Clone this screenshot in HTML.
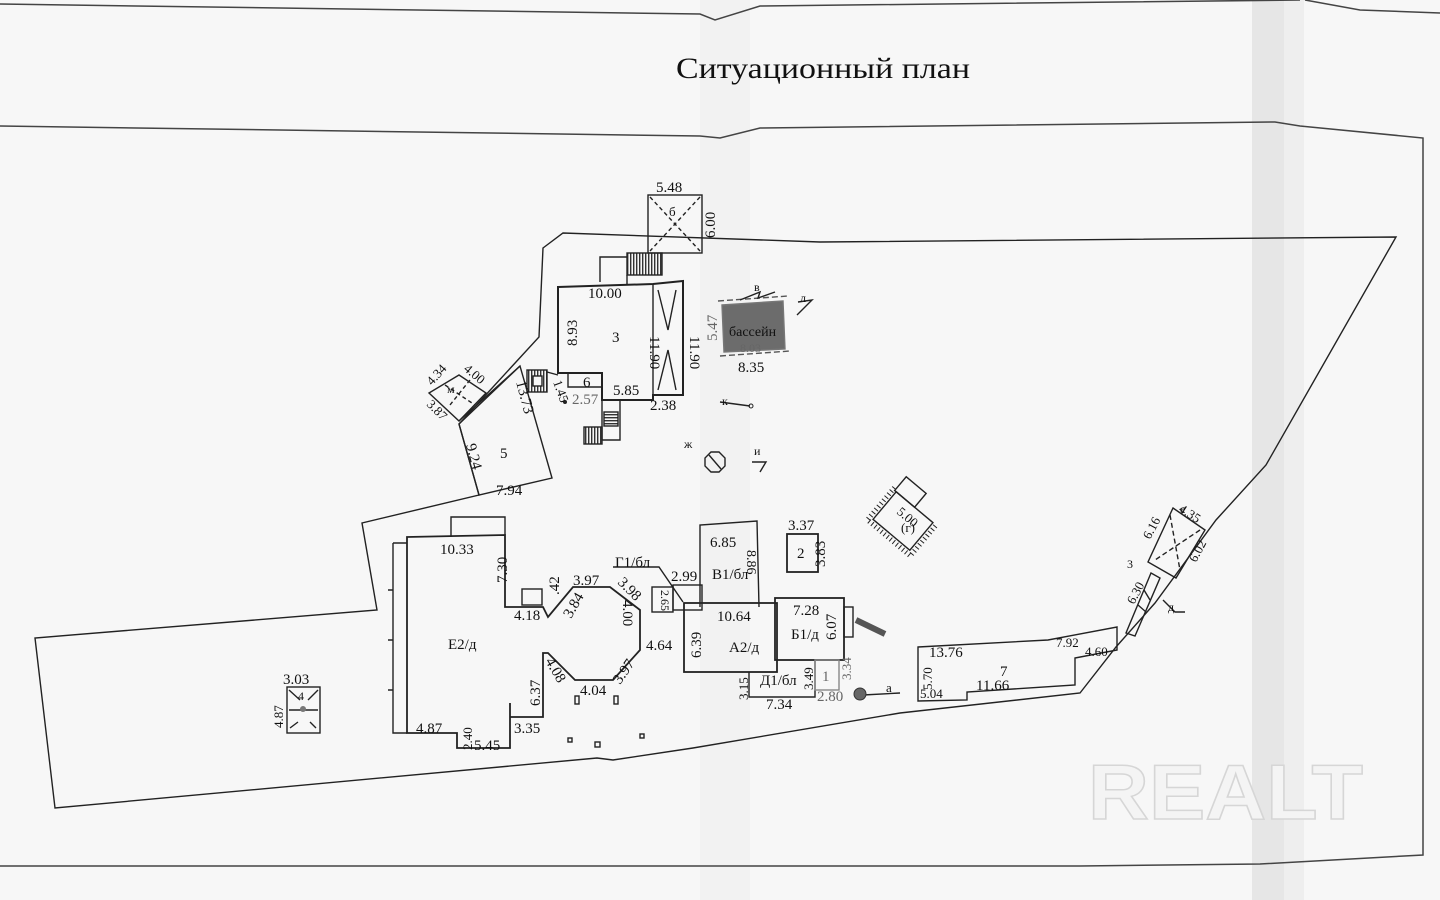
<!DOCTYPE html>
<html><head><meta charset="utf-8"><style>
html,body{margin:0;padding:0;background:#f7f7f7;}
svg{display:block}
text{font-family:"Liberation Serif","DejaVu Serif",serif;fill:#111;font-size:15px}
.g{fill:#666}
</style></head><body>
<svg width="1440" height="900" viewBox="0 0 1440 900" xmlns="http://www.w3.org/2000/svg">
<defs>
<pattern id="h" width="3" height="10" patternUnits="userSpaceOnUse"><rect width="1.4" height="10" fill="#333"/></pattern>
<pattern id="hv" width="10" height="3" patternUnits="userSpaceOnUse"><rect width="10" height="1.4" fill="#333"/></pattern>
</defs>
<rect width="1440" height="900" fill="#f7f7f7"/>
<rect x="1252" y="0" width="32" height="900" fill="#e6e6e6"/>
<rect x="1284" y="0" width="20" height="900" fill="#eeeeee"/>
<rect x="700" y="0" width="50" height="900" fill="#f2f2f2"/>
<g fill="none" stroke="#444" stroke-width="1.5">
<path d="M0,4 L700,14 L715,20 L760,6 L1300,0"/>
<path d="M1305,0 L1360,10 L1440,13"/>
<path d="M0,126 L700,136 L720,138 L760,128 L1275,122 L1300,126 L1423,138 L1423,855 L1260,864 L1080,866 L0,866"/>
</g>
<text x="676" y="78" style="font-size:30px" textLength="294" lengthAdjust="spacingAndGlyphs">Ситуационный план</text>

<g fill="none" stroke="#222" stroke-width="1.4">
<path d="M543,248 L563,233 L820,242 L1396,237 L1266,465 L1216,520 L1155,603 L1116,647 L1080,693 L900,713 L693,748 L613,760 L597,758 L55,808 L35,638 L377,610 L362,523 L479,495 L459,424 L539,337 Z"/>
<path d="M459,421 L520,366"/>
<path d="M459,375 L486,393 L459,421 L429,393 Z"/>
<path d="M445,385 L475,405 M470,380 L450,405" stroke-dasharray="4,3"/>
<path d="M520,366 L459,424 L479,495 L552,478 Z"/>
<path d="M558,287 L653,284 L683,281 L683,395 L653,395 L653,400 L602,400 L602,373 L558,373 Z" stroke-width="2"/>
<path d="M653,284 L653,395"/>
<path d="M568,373 L568,387 L602,387"/>
<path d="M658,290 L668,330 L676,290 M658,390 L668,350 L676,390"/>
<rect x="648" y="195" width="54" height="58"/>
<path d="M650,197 L700,251 M700,197 L650,251" stroke-dasharray="4,3"/>
<path d="M600,282 L600,257 L627,257"/>
<rect x="627" y="253" width="35" height="22" fill="url(#h)"/>
<path d="M627,275 L627,285"/>
<!-- stairs under 3 -->
<path d="M602,400 L602,440 L620,440 L620,400"/>
<rect x="604" y="412" width="14" height="14" fill="url(#hv)"/>
<rect x="584" y="427" width="18" height="17" fill="url(#h)"/>
<rect x="527" y="370" width="20" height="22" fill="url(#h)"/>
<rect x="533" y="376" width="9" height="10" fill="#f7f7f7"/>
<path d="M547,372 L558,375"/>
<path d="M722,305 L783,301 L785,349 L724,352 Z" fill="#6c6c6c" stroke="#777"/>
<path d="M718,301 L788,296 M720,356 L790,351" stroke-dasharray="6,3" stroke="#555"/>
<path d="M740,300 L760,292 L758,298 L775,292"/>
<path d="M798,302 L812,300 L800,312 L797,315"/>
<path d="M720,402 L750,406"/>
<polygon points="711,452 719,452 725,458 725,466 719,472 711,472 705,466 705,458"/>
<path d="M709,455 L721,469"/>
<path d="M752,462 L766,462 L760,472"/>
<path d="M451,537 L451,517 L505,517 L505,535"/>
<path d="M407,537 L505,535 L505,607 L543,607 L548,617 L573,587 L610,587 L640,610 L640,650 L613,680 L575,680 L548,653 L543,653 L543,717 L510,717 L510,703 L510,748 L457,748 L457,733 L407,733 Z" stroke-width="1.8"/>
<path d="M393,543 L407,543 M393,543 L393,733 L407,733"/>
<path d="M388,590 L393,590 M388,640 L393,640 M388,690 L393,690"/>
<rect x="522" y="589" width="20" height="16"/>
<rect x="575" y="696" width="4" height="8"/><rect x="614" y="696" width="4" height="8"/>
<rect x="568" y="738" width="4" height="4"/><rect x="595" y="742" width="5" height="5"/><rect x="640" y="734" width="4" height="4"/>
<rect x="652" y="587" width="21" height="25"/>
<rect x="673" y="585" width="29" height="25"/>
<path d="M613,567 L659,567 L683,602"/>
<path d="M700,607 L700,525 L757,521 L759,607"/>
<rect x="684" y="603" width="93" height="69" stroke-width="1.8"/>
<rect x="775" y="598" width="69" height="62" stroke-width="1.8"/>
<rect x="844" y="607" width="9" height="30"/>
<path d="M856,620 L885,634" stroke-width="6" stroke="#555"/>
<path d="M749,672 L749,697 L815,697 L815,661"/>
<rect x="815" y="660" width="24" height="30" stroke="#888"/>
<path d="M863,695 L900,693"/>
<rect x="787" y="534" width="31" height="38" stroke-width="1.8"/>
<rect x="287" y="687" width="33" height="46"/>
<path d="M289,690 L300,700 M318,690 L308,700 M289,710 L318,710 M290,728 L298,722 M316,728 L310,722"/>
<g transform="translate(903,521) rotate(40)">
<rect x="-24" y="-18" width="48" height="36"/>
<rect x="-26" y="-36" width="26" height="18"/>
<path d="M-28,-20 L-28,22 L28,22 L28,-20" stroke-dasharray="1,3" stroke-width="5"/>
</g>
<path d="M918,647 L1048,640 L1117,627 L1117,650 L1075,658 L1075,685 L967,692 L967,700 L918,701 Z"/>
<path d="M1173,508 L1205,530 L1176,578 L1148,562 Z"/>
<path d="M1170,515 L1180,570 M1200,530 L1155,560" stroke-dasharray="5,3"/>
<path d="M1151,573 L1160,578 L1135,636 L1126,633 Z"/>
<path d="M1144,590 L1150,600 M1138,605 L1146,612"/>
<path d="M1163,600 L1175,612 L1185,612"/>
</g>
<circle cx="860" cy="694" r="6" fill="#666" stroke="#333"/>
<circle cx="565" cy="402" r="2" fill="#222"/>
<circle cx="751" cy="406" r="2" fill="none" stroke="#222"/>
<circle cx="303" cy="709" r="3" fill="#777"/>

<text x="656" y="192">5.48</text>
<text x="669" y="216" style="font-size:13px">б</text>
<text transform="translate(715,238) rotate(-90)">6.00</text>
<text x="588" y="298">10.00</text>
<text transform="translate(577,346) rotate(-90)">8.93</text>
<text x="612" y="342">3</text>
<text transform="translate(650,336) rotate(90)">11.90</text>
<text transform="translate(690,336) rotate(90)">11.90</text>
<text x="583" y="387">6</text>
<text x="613" y="395">5.85</text>
<text x="650" y="410">2.38</text>
<text x="572" y="404" class="g">2.57</text>
<text transform="translate(553,382) rotate(70)" style="font-size:13px">1.45</text>
<text transform="translate(717,341) rotate(-90)" class="g">5.47</text>
<text x="729" y="336" style="font-size:14px">бассейн</text>
<text x="740" y="352" class="g" style="font-size:12px">8.03</text>
<text x="738" y="372">8.35</text>
<text x="754" y="291" style="font-size:12px">в</text>
<text x="800" y="302" style="font-size:12px">л</text>
<text x="722" y="405" style="font-size:12px">к</text>
<text x="684" y="448" style="font-size:12px">ж</text>
<text x="754" y="455" style="font-size:12px">и</text>
<text transform="translate(432,386) rotate(-48)" style="font-size:13px">4.34</text>
<text transform="translate(463,370) rotate(40)" style="font-size:13px">4.00</text>
<text transform="translate(426,405) rotate(45)" style="font-size:13px">3.87</text>
<text x="447" y="393" style="font-size:12px">м</text>
<text transform="translate(516,382) rotate(75)">13.73</text>
<text transform="translate(466,445) rotate(75)">9.24</text>
<text x="500" y="458">5</text>
<text x="496" y="495">7.94</text>
<text x="440" y="554">10.33</text>
<text transform="translate(507,583) rotate(-90)">7.30</text>
<text transform="translate(559,595) rotate(-90)">.42</text>
<text x="514" y="620">4.18</text>
<text transform="translate(571,619) rotate(-60)">3.84</text>
<text x="573" y="585">3.97</text>
<text transform="translate(617,583) rotate(45)">3.98</text>
<text transform="translate(623,600) rotate(90)">4.00</text>
<text x="646" y="650">4.64</text>
<text transform="translate(620,685) rotate(-55)">3.97</text>
<text x="580" y="695">4.04</text>
<text transform="translate(545,661) rotate(60)">4.08</text>
<text transform="translate(540,706) rotate(-90)">6.37</text>
<text x="514" y="733">3.35</text>
<text x="416" y="733">4.87</text>
<text transform="translate(472,750) rotate(-90)" style="font-size:13px">2.40</text>
<text x="474" y="750">5.45</text>
<text x="448" y="649">Е2/д</text>
<text x="615" y="567">Г1/бл</text>
<text x="671" y="581">2.99</text>
<text transform="translate(661,590) rotate(90)" style="font-size:12px">2.65</text>
<text x="710" y="547">6.85</text>
<text transform="translate(747,550) rotate(90)" style="font-size:14px">8.86</text>
<text x="712" y="579">В1/бл</text>
<text x="717" y="621">10.64</text>
<text transform="translate(701,658) rotate(-90)">6.39</text>
<text x="729" y="652">А2/д</text>
<text x="793" y="615">7.28</text>
<text x="791" y="639">Б1/д</text>
<text transform="translate(836,640) rotate(-90)">6.07</text>
<text transform="translate(748,700) rotate(-90)" style="font-size:13px">3.15</text>
<text x="760" y="685">Д1/бл</text>
<text transform="translate(813,690) rotate(-90)" style="font-size:13px">3.49</text>
<text x="822" y="681" class="g">1</text>
<text transform="translate(851,680) rotate(-90)" class="g" style="font-size:13px">3.34</text>
<text x="766" y="709">7.34</text>
<text x="817" y="701" class="g">2.80</text>
<text x="886" y="692" style="font-size:13px">а</text>
<text x="788" y="530">3.37</text>
<text x="797" y="558">2</text>
<text transform="translate(825,567) rotate(-90)">3.83</text>
<text x="283" y="684">3.03</text>
<text transform="translate(283,728) rotate(-90)" style="font-size:13px">4.87</text>
<text x="298" y="700" style="font-size:12px">4</text>
<text transform="translate(896,513) rotate(40)" style="font-size:13px">5.00</text>
<text x="901" y="532" style="font-size:13px">(г)</text>
<text x="929" y="657">13.76</text>
<text x="1000" y="676">7</text>
<text x="976" y="690">11.66</text>
<text transform="translate(932,690) rotate(-90)" style="font-size:13px">5.70</text>
<text x="920" y="698" style="font-size:13px">5.04</text>
<text x="1056" y="647" style="font-size:13px">7.92</text>
<text x="1085" y="656" style="font-size:13px">4.60</text>
<text transform="translate(1150,540) rotate(-62)" style="font-size:13px">6.16</text>
<text transform="translate(1178,511) rotate(33)" style="font-size:13px">4.35</text>
<text transform="translate(1196,563) rotate(-62)" style="font-size:13px">6.02</text>
<text transform="translate(1134,605) rotate(-62)" style="font-size:13px">6.30</text>
<text x="1180" y="513" style="font-size:12px">е</text>
<text x="1168" y="611" style="font-size:12px">д</text>
<text x="1127" y="568" style="font-size:12px">3</text>

<text x="1088" y="819" style="font-family:'Liberation Sans','DejaVu Sans',sans-serif;font-size:78px;font-weight:bold;fill:#f4f4f4;stroke:#d6d6d6;stroke-width:1.5" textLength="275" lengthAdjust="spacingAndGlyphs">REALT</text>
</svg>
</body></html>
